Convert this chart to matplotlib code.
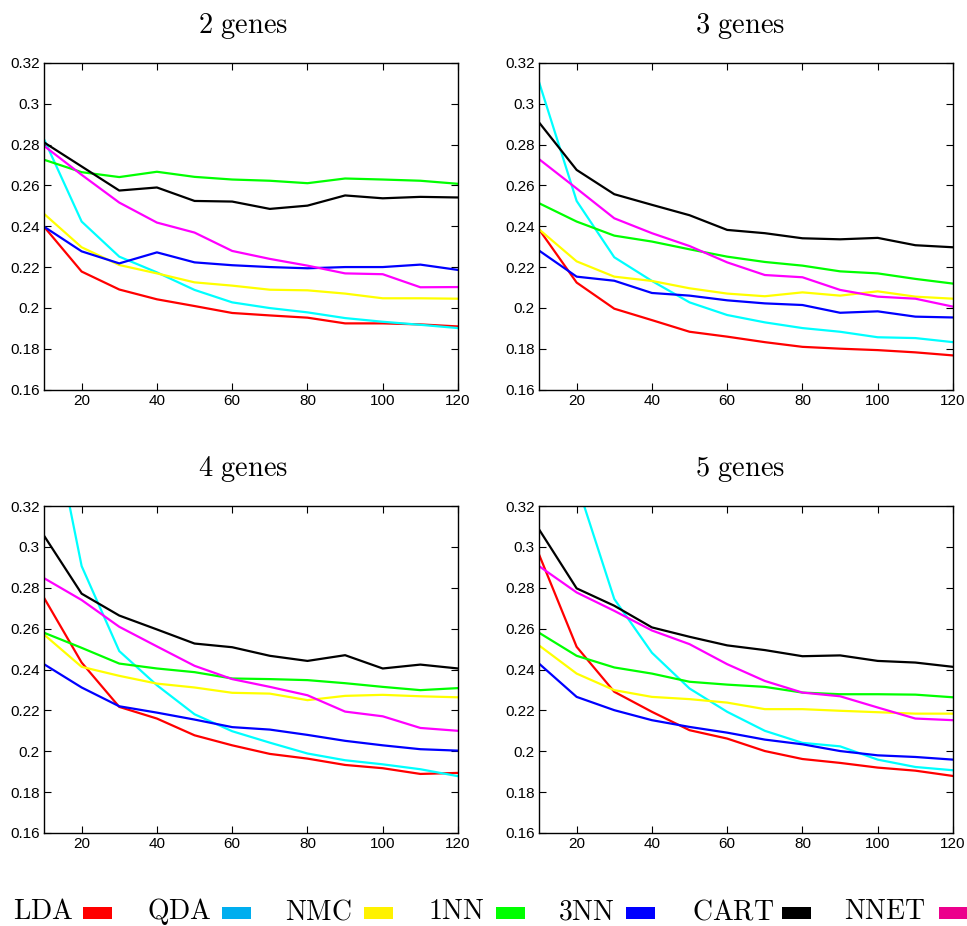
import matplotlib.pyplot as plt
from matplotlib.patches import Rectangle
from matplotlib.ticker import FuncFormatter

plt.rcParams['mathtext.fontset'] = 'cm'
plt.rcParams['font.family'] = 'Liberation Sans'

# sample sizes on the x axis
n = [10, 20, 30, 40, 50, 60, 70, 80, 90, 100, 110, 120]
titles = ['2 genes', '3 genes', '4 genes', '5 genes']

# error rates, one row per gene count (2, 3, 4, 5)
lda = [
    [0.2398, 0.2178, 0.2090, 0.2042, 0.2009, 0.1975, 0.1963, 0.1952, 0.1924, 0.1924, 0.1919, 0.1909],
    [0.2385, 0.2124, 0.1996, 0.1940, 0.1883, 0.1859, 0.1832, 0.1809, 0.1800, 0.1793, 0.1782, 0.1767],
    [0.2751, 0.2434, 0.2217, 0.2160, 0.2078, 0.2029, 0.1987, 0.1964, 0.1933, 0.1917, 0.1889, 0.1894],
    [0.2963, 0.2511, 0.2291, 0.2193, 0.2103, 0.2062, 0.2001, 0.1962, 0.1943, 0.1920, 0.1905, 0.1879],
]
qda = [
    [0.2827, 0.2423, 0.2251, 0.2174, 0.2088, 0.2027, 0.1999, 0.1978, 0.1950, 0.1932, 0.1917, 0.1901],
    [0.3107, 0.2524, 0.2248, 0.2132, 0.2027, 0.1965, 0.1929, 0.1901, 0.1883, 0.1856, 0.1852, 0.1832],
    [0.3825, 0.2906, 0.2490, 0.2323, 0.2181, 0.2098, 0.2042, 0.1989, 0.1956, 0.1936, 0.1912, 0.1878],
    [0.4000, 0.3314, 0.2745, 0.2482, 0.2307, 0.2193, 0.2100, 0.2041, 0.2024, 0.1959, 0.1923, 0.1907],
]
nmc = [
    [0.2461, 0.2297, 0.2210, 0.2169, 0.2125, 0.2109, 0.2089, 0.2086, 0.2070, 0.2047, 0.2047, 0.2045],
    [0.2385, 0.2228, 0.2153, 0.2132, 0.2096, 0.2070, 0.2057, 0.2076, 0.2060, 0.2081, 0.2055, 0.2045],
    [0.2571, 0.2413, 0.2369, 0.2331, 0.2312, 0.2286, 0.2282, 0.2250, 0.2271, 0.2276, 0.2269, 0.2264],
    [0.2518, 0.2380, 0.2299, 0.2266, 0.2255, 0.2238, 0.2206, 0.2206, 0.2198, 0.2191, 0.2184, 0.2184],
]
nn1 = [
    [0.2726, 0.2665, 0.2641, 0.2667, 0.2642, 0.2629, 0.2623, 0.2611, 0.2634, 0.2629, 0.2623, 0.2608],
    [0.2513, 0.2423, 0.2354, 0.2325, 0.2287, 0.2251, 0.2225, 0.2207, 0.2179, 0.2169, 0.2142, 0.2119],
    [0.2580, 0.2506, 0.2429, 0.2405, 0.2387, 0.2356, 0.2353, 0.2348, 0.2333, 0.2315, 0.2299, 0.2309],
    [0.2580, 0.2467, 0.2410, 0.2380, 0.2340, 0.2326, 0.2315, 0.2287, 0.2279, 0.2279, 0.2277, 0.2264],
]
nn3 = [
    [0.2398, 0.2277, 0.2218, 0.2272, 0.2223, 0.2209, 0.2200, 0.2194, 0.2200, 0.2200, 0.2212, 0.2186],
    [0.2281, 0.2153, 0.2133, 0.2073, 0.2060, 0.2037, 0.2022, 0.2014, 0.1976, 0.1983, 0.1957, 0.1953],
    [0.2426, 0.2312, 0.2220, 0.2189, 0.2155, 0.2118, 0.2106, 0.2080, 0.2051, 0.2029, 0.2010, 0.2003],
    [0.2429, 0.2266, 0.2201, 0.2152, 0.2119, 0.2091, 0.2057, 0.2034, 0.2001, 0.1980, 0.1972, 0.1959],
]
cart = [
    [0.2811, 0.2693, 0.2575, 0.2590, 0.2524, 0.2521, 0.2485, 0.2501, 0.2551, 0.2537, 0.2544, 0.2541],
    [0.2909, 0.2676, 0.2557, 0.2505, 0.2454, 0.2382, 0.2366, 0.2341, 0.2336, 0.2343, 0.2307, 0.2297],
    [0.3055, 0.2771, 0.2664, 0.2596, 0.2527, 0.2509, 0.2467, 0.2442, 0.2470, 0.2405, 0.2424, 0.2405],
    [0.3086, 0.2797, 0.2712, 0.2606, 0.2560, 0.2518, 0.2495, 0.2465, 0.2469, 0.2442, 0.2434, 0.2413],
]
nnet = [
    [0.2794, 0.2652, 0.2516, 0.2418, 0.2369, 0.2279, 0.2240, 0.2207, 0.2169, 0.2165, 0.2101, 0.2102],
    [0.2729, 0.2585, 0.2439, 0.2366, 0.2303, 0.2223, 0.2161, 0.2150, 0.2088, 0.2055, 0.2045, 0.2006],
    [0.2847, 0.2740, 0.2609, 0.2513, 0.2418, 0.2353, 0.2315, 0.2274, 0.2194, 0.2171, 0.2114, 0.2100],
    [0.2906, 0.2777, 0.2687, 0.2591, 0.2524, 0.2426, 0.2344, 0.2287, 0.2269, 0.2214, 0.2160, 0.2152],
]

methods = ['LDA', 'QDA', 'NMC', '1NN', '3NN', 'CART', 'NNET']
series = [lda, qda, nmc, nn1, nn3, cart, nnet]
line_colors = ['#ff0000', '#00ffff', '#ffff00', '#00ff00', '#0000ff', '#000000', '#ff00ff']
swatch_colors = ['#ff0000', '#00aeef', '#fff200', '#00ff00', '#0000ff', '#000000', '#ec008c']

W, H = 967, 926
fig = plt.figure(figsize=(W / 100, H / 100), dpi=100)

# axes boxes in pixels: left, top, right, bottom
boxes = [(44, 63, 458, 389.5), (539, 63, 953, 389.5),
         (44, 506, 458, 833), (539, 506, 953, 833)]
# title anchor (centre x, baseline y) in pixels
title_pos = [(243, 33), (740, 33), (243, 476), (740, 476)]

fmt = FuncFormatter(lambda v, p: '%g' % round(v, 3))

for k, (l, t, r, b) in enumerate(boxes):
    ax = fig.add_axes([l / W, 1 - b / H, (r - l) / W, (b - t) / H])
    for s, c in zip(series, line_colors):
        ax.plot(n, s[k], color=c, lw=1.6)
    ax.set_xlim(10, 120)
    ax.set_ylim(0.16, 0.32)
    ax.set_xticks([20, 40, 60, 80, 100, 120])
    ax.set_yticks([0.16 + 0.02 * i for i in range(9)])
    ax.yaxis.set_major_formatter(fmt)
    ax.tick_params(direction='in', top=True, right=True, length=5,
                   labelsize=11, width=0.8, pad=3)
    for sp in ax.spines.values():
        sp.set_linewidth(1.0)
    tx, ty = title_pos[k]
    fig.text(tx / W, 1 - ty / H, r'$\mathrm{%s}$' % titles[k].replace(' ', r'\ '),
             fontsize=20.5, ha='center', va='baseline')

# legend row along the bottom
base = 919
label_x = [13, 147, 285, 428, 558, 692, 844]
swatch_x = [83, 222, 364, 496, 626, 782, 939]
for name, lx, sx, c in zip(methods, label_x, swatch_x, swatch_colors):
    fig.text(lx / W, 1 - base / H, r'$\mathrm{%s}$' % name, fontsize=20,
             ha='left', va='baseline')
    fig.add_artist(Rectangle((sx / W, 1 - base / H), 29 / W, 12 / H,
                             transform=fig.transFigure, color=c, lw=0))

fig.savefig('out.png', dpi=100)
